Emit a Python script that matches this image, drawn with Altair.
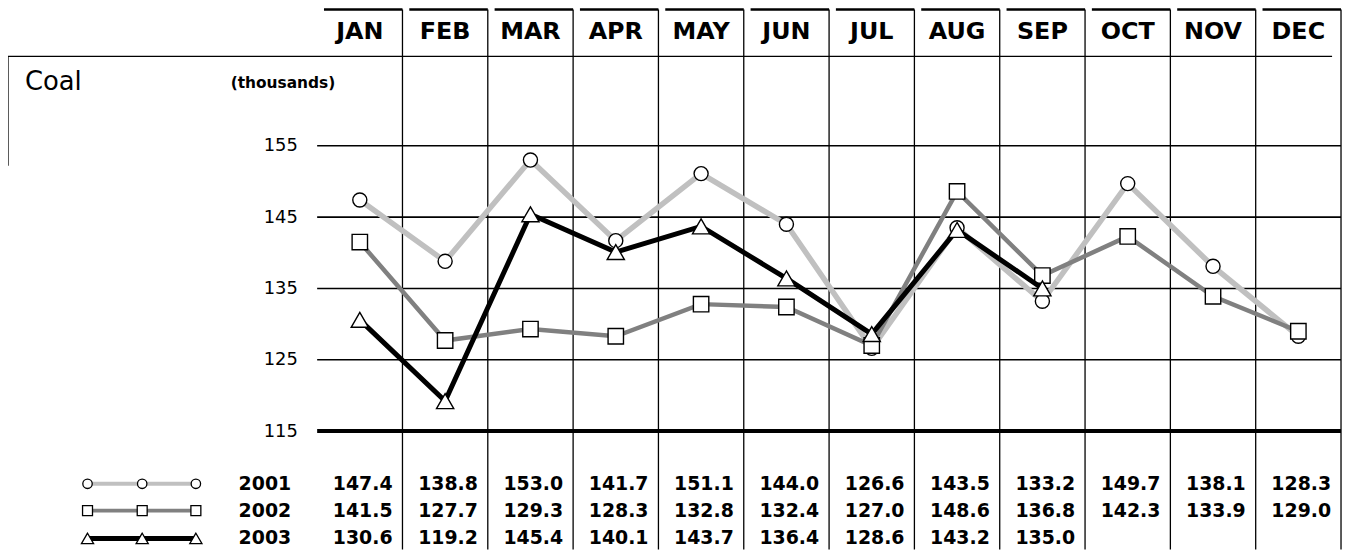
import altair as alt
import pandas as pd

months = ["JAN", "FEB", "MAR", "APR", "MAY", "JUN", "JUL", "AUG", "SEP", "OCT", "NOV", "DEC"]
v2001 = [147.4, 138.8, 153.0, 141.7, 151.1, 144.0, 126.6, 143.5, 133.2, 149.7, 138.1, 128.3]
v2002 = [141.5, 127.7, 129.3, 128.3, 132.8, 132.4, 127.0, 148.6, 136.8, 142.3, 133.9, 129.0]
v2003 = [130.6, 119.2, 145.4, 140.1, 143.7, 136.4, 128.6, 143.2, 135.0]
years = ["2001", "2002", "2003"]
grid_levels = [125, 135, 145, 155]
base_level = [115]
tick_values = [115, 125, 135, 145, 155]
title_text = "Coal"
unit_text = "(thousands)"

series = {"2001": v2001, "2002": v2002, "2003": v2003}
colors = {"2001": "#c0c0c0", "2002": "#808080", "2003": "#000000"}
widths = {"2001": 5.5, "2002": 4.5, "2003": 5}
leg_widths = {"2001": 4, "2002": 4, "2003": 5}
shapes = {"2001": "circle", "2002": "square", "2003": "triangle-up"}
sizes = {"2001": 200, "2002": 240, "2003": 300}
leg_sizes = {"2001": 90, "2002": 100, "2003": 150}

W = 1030
H = 543
FONT = "DejaVu Sans"

cols = pd.DataFrame({"month": months, "idx": list(range(1, 13))})
cols["edge"] = cols["idx"] + 0.5
cols["hstart"] = cols["idx"] - 0.42
one = pd.DataFrame({"k": [0]})

xs = alt.Scale(domain=[0.5, 12.5], nice=False, zero=False)
ys = alt.Scale(domain=[98.415, 174.094], nice=False, zero=False)
yaxis = alt.Axis(values=tick_values, grid=False, domain=False, ticks=False,
                 labelPadding=20, labelFontSize=18, labelFont=FONT,
                 labelColor="black", title=None)


def X(field):
    return alt.X(field, type="quantitative", scale=xs, axis=None)


def Y(field):
    return alt.Y(field, type="quantitative", scale=ys, axis=yaxis)


layers = []

# column dividers
layers.append(alt.Chart(cols).mark_rule(color="black", strokeWidth=1.3).encode(
    x=X("edge"), y=alt.value(0), y2=alt.value(H)))
# header top lines
layers.append(alt.Chart(cols).mark_rule(color="black", strokeWidth=2.5).encode(
    x=X("hstart"), x2="edge", y=alt.value(0)))
# header labels
layers.append(alt.Chart(cols).mark_text(font=FONT, fontWeight="bold", fontSize=24,
                                        color="black", baseline="middle").encode(
    x=X("idx"), y=alt.value(23), text="month:N"))

# box under headers
layers.append(alt.Chart(one).mark_rule(color="black", strokeWidth=1.3).encode(
    x=alt.value(-311), x2=alt.value(1021), y=alt.value(47)))
layers.append(alt.Chart(one).mark_rule(color="black", strokeWidth=1.3).encode(
    x=alt.value(-311), y=alt.value(47), y2=alt.value(157)))
layers.append(alt.Chart(one).mark_text(font=FONT, fontSize=26, align="left",
                                       baseline="middle", color="black").encode(
    x=alt.value(-294), y=alt.value(73), text=alt.value(title_text)))
layers.append(alt.Chart(one).mark_text(font=FONT, fontWeight="bold", fontSize=15.5,
                                       align="left", baseline="middle", color="black").encode(
    x=alt.value(-87), y=alt.value(74), text=alt.value(unit_text)))

# gridlines
grid_df = pd.DataFrame({"level": grid_levels})
layers.append(alt.Chart(grid_df).mark_rule(color="black", strokeWidth=1.6).encode(
    y=Y("level"), x=alt.value(0), x2=alt.value(W)))
base_df = pd.DataFrame({"level": base_level})
layers.append(alt.Chart(base_df).mark_rule(color="black", strokeWidth=4).encode(
    y=Y("level"), x=alt.value(0), x2=alt.value(W)))

# series
for yr in years:
    vals = series[yr]
    df = pd.DataFrame({"idx": list(range(1, len(vals) + 1)), "value": vals})
    layers.append(alt.Chart(df).mark_line(color=colors[yr], strokeWidth=widths[yr]).encode(
        x=X("idx"), y=Y("value")))
    layers.append(alt.Chart(df).mark_point(shape=shapes[yr], size=sizes[yr], filled=True,
                                           fill="white", stroke="black", strokeWidth=1.4,
                                           opacity=1).encode(
        x=X("idx"), y=Y("value")))

# table
row_y = {"2001": 477, "2002": 504, "2003": 532}
leg_x = [-231, -176, -122]
for yr in years:
    vals = series[yr]
    df = pd.DataFrame({"edge": [i + 1.5 for i in range(len(vals))], "value": vals})
    layers.append(alt.Chart(df).mark_text(font=FONT, fontWeight="bold", fontSize=19,
                                          align="right", baseline="middle", dx=-10,
                                          color="black").encode(
        x=X("edge"), y=alt.value(row_y[yr]), text=alt.Text("value:Q", format=".1f")))
    layers.append(alt.Chart(one).mark_text(font=FONT, fontWeight="bold", fontSize=19,
                                           align="left", baseline="middle",
                                           color="black").encode(
        x=alt.value(-79), y=alt.value(row_y[yr]), text=alt.value(yr)))
    # legend symbol
    layers.append(alt.Chart(one).mark_rule(color=colors[yr], strokeWidth=leg_widths[yr]).encode(
        x=alt.value(leg_x[0]), x2=alt.value(leg_x[2]), y=alt.value(row_y[yr])))
    for lx in leg_x:
        layers.append(alt.Chart(one).mark_point(shape=shapes[yr], size=leg_sizes[yr],
                                                filled=True, fill="white", stroke="black",
                                                strokeWidth=1.3, opacity=1).encode(
            x=alt.value(lx), y=alt.value(row_y[yr])))

chart = alt.layer(*layers).properties(
    width=W, height=H,
    padding={"left": 311, "top": 0, "right": 3, "bottom": 0},
    autosize=alt.AutoSizeParams(type="none"),
    background="white",
).configure_view(stroke=None)

chart.save("out.html", embed_options={"renderer": "svg", "actions": False})
